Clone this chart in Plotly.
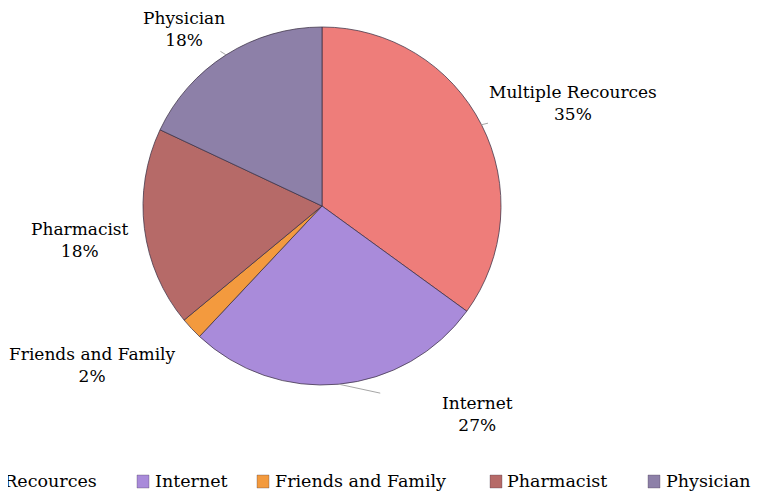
import numpy as np
import plotly.graph_objects as go

# data
sources = ["Multiple Recources", "Internet", "Friends and Family", "Pharmacist", "Physician"]
shares = [35, 27, 2, 18, 18]
colors = ["#EE7D7A", "#A98BDA", "#F39A3E", "#B66A68", "#8D80A8"]

# label placement (pixel offsets from the slice edge) and which labels get a leader line
label_dx = [92, 139, -99, -64, -42]
label_dy = [-22, 30, 36, 12, -26]
leader = [True, True, False, False, True]
leader_trim = [0, 62, 0, 0, 0]

# hand-placed legend (pixels from the left of the window)
legend_box_x = [-99, 137, 257, 490, 648]
legend_text_x = [-78, 153, 273, 505, 664]

# the page body has an 8px margin, so the figure is shrunk and everything shifted by it
OFF = 8
W, H = 760 - OFF, 493 - OFF
FONT = "DejaVu Serif, serif"

# pie geometry in window pixels
cx, cy, r = 322 - OFF, 206 - OFF, 179
dom_x = [(cx - r) / W, (cx + r) / W]
dom_y = [(H - cy - r) / H, (H - cy + r) / H]

fig = go.Figure()
fig.add_trace(go.Pie(
    labels=sources, values=shares, sort=False, direction="clockwise", rotation=0,
    marker=dict(colors=colors, line=dict(color="rgba(60,50,70,0.75)", width=1)),
    textinfo="none", hoverinfo="label+percent", showlegend=False,
    domain=dict(x=dom_x, y=dom_y),
))

# labels: anchor each at the outer edge of its slice, mid-angle
vals = np.array(shares, dtype=float)
frac = vals / vals.sum()
mid = (np.cumsum(frac) - frac / 2) * 2 * np.pi
edge_x = (cx + r * np.sin(mid)) / W
edge_y = (H - (cy - r * np.cos(mid))) / H

annotations = []
for i, name in enumerate(sources):
    annotations.append(dict(
        x=edge_x[i], y=edge_y[i], xref="paper", yref="paper",
        ax=label_dx[i], ay=label_dy[i],
        text=f"{name}<br>{round(frac[i] * 100)}%",
        showarrow=True, arrowhead=0, arrowwidth=1, startstandoff=leader_trim[i],
        arrowcolor="#A6A6A6" if leader[i] else "rgba(0,0,0,0)",
        font=dict(family=FONT, size=17, color="#000000"),
        align="center",
    ))

shapes = []
for i, name in enumerate(sources):
    bx = legend_box_x[i] - OFF
    shapes.append(dict(
        type="rect", xref="paper", yref="paper",
        x0=bx / W, x1=(bx + 12) / W,
        y0=(H - (488 - OFF)) / H, y1=(H - (475 - OFF)) / H,
        fillcolor=colors[i], line=dict(color="rgba(60,50,70,0.6)", width=0.5),
    ))
    annotations.append(dict(
        x=(legend_text_x[i] - OFF) / W, y=(H - (481 - OFF)) / H,
        xref="paper", yref="paper",
        xanchor="left", yanchor="middle", showarrow=False,
        text=name, font=dict(family=FONT, size=17.5, color="#000000"),
    ))

fig.update_layout(
    width=W, height=H,
    margin=dict(l=0, r=0, t=0, b=0),
    paper_bgcolor="white", plot_bgcolor="white",
    annotations=annotations, shapes=shapes,
    showlegend=False,
)

fig.write_html("out.html")
